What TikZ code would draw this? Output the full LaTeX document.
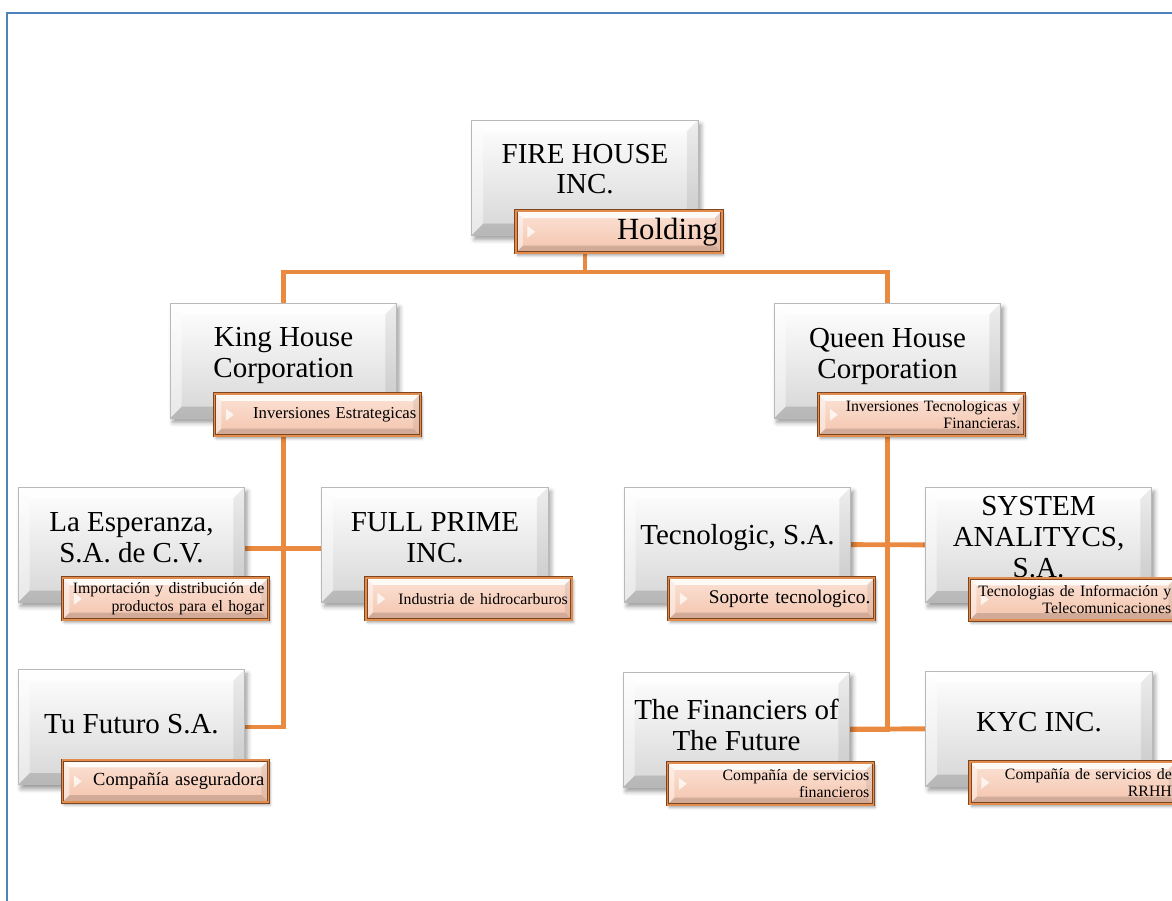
\documentclass[tikz,border=0pt]{standalone}
\usepackage{fontspec}
\setmainfont{Liberation Serif}
\usetikzlibrary{shadows.blur}
\pgfdeclarelayer{background}
\pgfsetlayers{background,main}
\definecolor{frameblue}{RGB}{79,129,189}
\definecolor{linkorange}{RGB}{234,138,64}
\definecolor{unitgray}{RGB}{214,214,214}
\definecolor{subtop}{RGB}{251,226,214}
\definecolor{subbottom}{RGB}{244,196,172}
\definecolor{subbrown}{RGB}{125,70,32}
\definecolor{suborange}{RGB}{226,140,78}
\def\facets#1{%
  \fill[white,opacity=.85] (path picture bounding box.north west) -- (path picture bounding box.north east) -- ([xshift=-#1,yshift=-#1]path picture bounding box.north east) -- ([xshift=#1,yshift=-#1]path picture bounding box.north west) -- cycle;
  \fill[white,opacity=.45] (path picture bounding box.north west) -- ([xshift=#1,yshift=-#1]path picture bounding box.north west) -- ([xshift=#1,yshift=#1]path picture bounding box.south west) -- (path picture bounding box.south west) -- cycle;
  \fill[black,opacity=.07] (path picture bounding box.north east) -- ([xshift=-#1,yshift=-#1]path picture bounding box.north east) -- ([xshift=-#1,yshift=#1]path picture bounding box.south east) -- (path picture bounding box.south east) -- cycle;
  \fill[black,opacity=.14] (path picture bounding box.south west) -- ([xshift=#1,yshift=#1]path picture bounding box.south west) -- ([xshift=-#1,yshift=#1]path picture bounding box.south east) -- (path picture bounding box.south east) -- cycle;}
\def\subtri{%
  \fill[white,opacity=.75] ([xshift=6.5pt,yshift=3.5pt]path picture bounding box.west) -- ([xshift=11pt]path picture bounding box.west) -- ([xshift=6.5pt,yshift=-3.5pt]path picture bounding box.west) -- cycle;}
\tikzset{
  unitbox/.style={draw=gray!55, line width=0.4pt, top color=white, bottom color=unitgray,
    minimum width=4.53cm, minimum height=2.3cm, inner sep=0pt,
    blur shadow={shadow xshift=1.5pt, shadow yshift=-2.5pt, shadow blur radius=2.5pt, shadow opacity=40},
    path picture={\facets{6.5pt}}},
  unittext/.style={align=center, inner sep=0pt, font=\fontsize{16.5}{17.5}\selectfont},
  subbox/.style={anchor=north west, draw=subbrown, double=suborange, double distance=0.9pt, line width=0.5pt,
    top color=subtop, bottom color=subbottom, minimum width=4.12cm, minimum height=0.84cm,
    text width=3.96cm, inner xsep=0.08cm, inner ysep=0pt, align=right, font=\fontsize{9}{9.8}\selectfont,
    blur shadow={shadow xshift=1pt, shadow yshift=-1.5pt, shadow blur radius=1.5pt, shadow opacity=35},
    path picture={\facets{4pt}\subtri}},
  link/.style={draw=linkorange, line width=2.8pt},
  frame/.style={draw=frameblue, line width=1.3pt}
}
\begin{document}
\begin{tikzpicture}[x=0.02cm, y=-0.02cm]
		%%%%% START %%%%%
		\useasboundingbox (0,0) rectangle (1172,901);
		\draw[frame] (7,920) |- (1190,13);
		
		% holding
		\node[unitbox] (fire) at (585,177.5) {};
		\node[unittext] (fire-t) at ([shift={(0,-8.5)}]fire.center) {FIRE HOUSE\\INC.};
		\node[subbox, font=\fontsize{17.5}{18}\selectfont] (fire-s) at ([shift={(44,-25)}]fire.south west) {Holding};
		
		% corporations
		\node[unitbox] (king) at (283.5,360.5) {};
		\node[unittext] (king-t) at ([shift={(0,-5)}]king.center) {King House\\Corporation};
		\node[subbox, font=\fontsize{9.5}{10}\selectfont] (king-s) at ([shift={(44,-25)}]king.south west) {Inversiones Estrategicas};
		
		\node[unitbox] (queen) at (887.5,360.5) {};
		\node[unittext] (queen-t) at ([shift={(0,-4)}]queen.center) {Queen House\\Corporation};
		\node[subbox] (queen-s) at ([shift={(44,-25)}]queen.south west) {Inversiones Tecnologicas y\\Financieras.};
		
		% king house companies
		\node[unitbox] (esper) at (131.5,544.5) {};
		\node[unittext] (esper-t) at ([shift={(0,-7)}]esper.center) {La Esperanza,\\S.A. de C.V.};
		\node[subbox] (esper-s) at ([shift={(44,-25)}]esper.south west) {Importación y distribución de\\productos para el hogar};
		
		\node[unitbox] (full) at (435,544.5) {};
		\node[unittext] (full-t) at ([shift={(0,-7)}]full.center) {FULL PRIME\\INC.};
		\node[subbox] (full-s) at ([shift={(44,-25)}]full.south west) {Industria de hidrocarburos};
		
		\node[unitbox] (futuro) at (131.5,727) {};
		\node[unittext] (futuro-t) at ([shift={(0,-3)}]futuro.center) {Tu Futuro S.A.};
		\node[subbox, font=\fontsize{10.5}{11}\selectfont] (futuro-s) at ([shift={(44,-25)}]futuro.south west) {Compañía aseguradora};
		
		% queen house companies
		\node[unitbox] (tecno) at (737.5,544.5) {};
		\node[unittext] (tecno-t) at ([shift={(0,-7)}]tecno.center) {Tecnologic, S.A.};
		\node[subbox, font=\fontsize{11}{11.5}\selectfont] (tecno-s) at ([shift={(44,-25)}]tecno.south west) {Soporte tecnologico.};
		
		\node[unitbox] (system) at (1038.5,545) {};
		\node[unittext] (system-t) at ([shift={(0,-8)}]system.center) {SYSTEM\\ANALITYCS,\\S.A.};
		\node[subbox] (system-s) at ([shift={(44,-25)}]system.south west) {Tecnologias de Información y\\Telecomunicaciones};
		
		\node[unitbox] (financ) at (736.5,729.5) {};
		\node[unittext] (financ-t) at ([shift={(0,-4.5)}]financ.center) {The Financiers of\\The Future};
		\node[subbox] (financ-s) at ([shift={(44,-25)}]financ.south west) {Compañía de servicios\\financieros};
		
		\node[unitbox] (kyc) at (1039,728.5) {};
		\node[unittext] (kyc-t) at ([shift={(0,-6.5)}]kyc.center) {KYC INC.};
		\node[subbox] (kyc-s) at ([shift={(44,-25)}]kyc.south west) {Compañía de servicios de\\RRHH};
		
		% connectors
		\begin{pgfonlayer}{background}
		\coordinate (hub) at (585,272);
		\draw[link] (fire) -- (hub) -| (king);
		\draw[link] (hub) -| (queen);
		\draw[link] (king) |- (futuro);
		\draw[link] ([yshift=-2.5pt]esper.center) -- ([yshift=-2.5pt]full.center);
		\draw[link] (queen) |- (financ);
		\draw[link] (tecno) -- (system);
		\draw[link] (financ) -- (kyc);
		\end{pgfonlayer}
		%%%%% END %%%%%
\end{tikzpicture}
\end{document}
